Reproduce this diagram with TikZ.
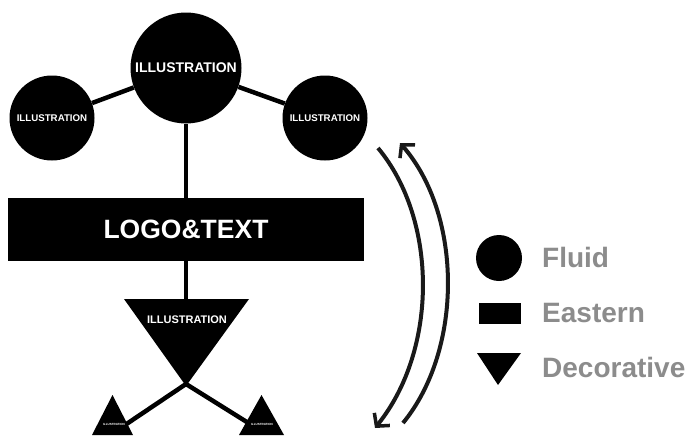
\documentclass[tikz,border=0pt]{standalone}
\usepackage{fontspec}
\setmainfont{Liberation Sans}
\usetikzlibrary{arrows.meta}
\definecolor{leggray}{RGB}{140,140,140}
\begin{document}
\begin{tikzpicture}[x=1pt,y=-1pt,
  blkcirc/.style={circle,fill=black,inner sep=0pt,text=white},
  conn/.style={line width=4.5pt,black},
  arcarrow/.style={line width=4pt,black!90,-{Straight Barb[length=9pt,width=20pt,line width=3.5pt]}},
  legtext/.style={anchor=base west,text=leggray,font=\bfseries\fontsize{28}{28}\selectfont,inner sep=0pt},
  tinytext/.style={text=white,font=\bfseries\fontsize{3}{3}\selectfont,inner sep=0pt}
]
\fill[white] (0,0) rectangle (694,439);
\useasboundingbox (0,0) rectangle (694,439);

% coordinates
\coordinate (ttop) at (186,299);
\coordinate (tapex) at (186,384);
\coordinate (lt) at (125,425);
\coordinate (rt) at (250,424);

% nodes
\node[blkcirc,minimum size=111pt,font=\bfseries\fontsize{14}{14}\selectfont] (big) at (186,68) {ILLUSTRATION};
\node[blkcirc,minimum size=85pt,font=\bfseries\fontsize{9.7}{9.7}\selectfont] (left) at (52,118) {ILLUSTRATION};
\node[blkcirc,minimum size=85pt,font=\bfseries\fontsize{9.7}{9.7}\selectfont] (right) at (325,118) {ILLUSTRATION};
\node[fill=black,text=white,inner sep=0pt,minimum width=356pt,minimum height=63pt,
      font=\bfseries\fontsize{26.5}{26.5}\selectfont] (logo) at (186,229.5) {LOGO\&TEXT};

% connectors
\draw[conn] (big) -- (left);
\draw[conn] (big) -- (right);
\draw[conn] (big) -- (logo);
\draw[conn] (logo.south) -- (ttop);
\draw[conn] (tapex) -- (lt);
\draw[conn] (tapex) -- (rt);

% triangles
\fill[black] (124,299) -- (249,299) -- (186,386) -- cycle;
\node[text=white,inner sep=0pt,font=\bfseries\fontsize{11}{11}\selectfont] (tlabel) at (187,320) {ILLUSTRATION};
\fill[black] (92,435) -- (133,435) -- (112.5,395) -- cycle;
\fill[black] (239,435) -- (284,435) -- (261.5,395) -- cycle;
\node[tinytext] (ltlabel) at (114,424) {ILLUSTRATION};
\node[tinytext] (rtlabel) at (262,424) {ILLUSTRATION};

% arrows
\coordinate (a1s) at (378,148);
\coordinate (a1e) at (375,428);
\coordinate (a2s) at (403,423);
\coordinate (a2e) at (400,143);
\draw[arcarrow] (a1s) .. controls (438,220) and (438,350) .. (a1e);
\draw[arcarrow] (a2s) .. controls (463,350) and (463,215) .. (a2e);

% legend
\node[circle,fill=black,inner sep=0pt,minimum size=46pt] (lcirc) at (499,258) {};
\node[fill=black,inner sep=0pt,minimum width=42pt,minimum height=21pt] (lrect) at (500,313.5) {};
\fill[black] (477,353) -- (521,353) -- (498,385) -- cycle;
\node[legtext] (fluid) at (542,267) {Fluid};
\node[legtext] (eastern) at (542,322) {Eastern};
\node[legtext] (decor) at (542,377) {Decorative};
\end{tikzpicture}
\end{document}
